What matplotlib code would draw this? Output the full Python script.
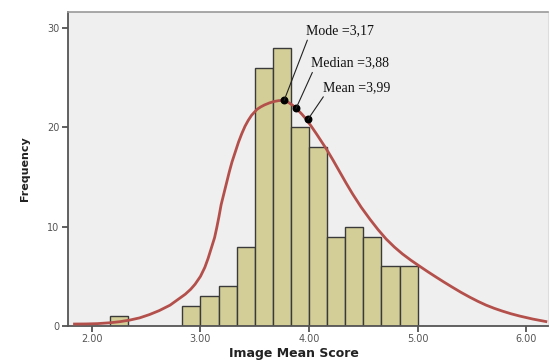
import numpy as np
import matplotlib.pyplot as plt

# histogram of image mean scores (bins of 1/6)
bin_starts = [2.1667, 2.8333, 3.0, 3.1667, 3.3333, 3.5, 3.6667, 3.8333,
              4.0, 4.1667, 4.3333, 4.5, 4.6667, 4.8333]
counts = [1, 2, 3, 4, 8, 26, 28, 20, 18, 9, 10, 9, 6, 6]
bin_width = 1 / 6

# fitted density curve
curve_x = [1.84, 1.95, 2.05, 2.17, 2.26, 2.35, 2.44, 2.53, 2.62, 2.72, 2.79,
           2.86, 2.91, 2.95, 3.00, 3.04, 3.07, 3.10, 3.13, 3.15, 3.17, 3.19,
           3.215, 3.24, 3.265, 3.29, 3.32, 3.35, 3.38, 3.41, 3.44, 3.47, 3.52,
           3.555, 3.59, 3.635, 3.68, 3.72, 3.75, 3.78, 3.81, 3.85, 3.90, 3.935,
           3.97, 4.02, 4.07, 4.115, 4.16, 4.22, 4.28, 4.34, 4.40, 4.48, 4.56,
           4.635, 4.71, 4.785, 4.86, 4.94, 5.02, 5.095, 5.17, 5.245, 5.32,
           5.40, 5.48, 5.555, 5.63, 5.705, 5.78, 5.86, 5.94, 6.06, 6.18]
curve_y = [0.20, 0.21, 0.24, 0.33, 0.44, 0.60, 0.82, 1.15, 1.55, 2.10, 2.65,
           3.20, 3.70, 4.20, 5.00, 5.90, 6.80, 7.85, 8.90, 9.90, 11.0, 12.2,
           13.3, 14.4, 15.5, 16.5, 17.5, 18.5, 19.35, 20.1, 20.7, 21.2, 21.8,
           22.05, 22.25, 22.45, 22.6, 22.68, 22.7, 22.65, 22.5, 22.2, 21.7, 21.3,
           20.85, 20.1, 19.3, 18.55, 17.8, 16.7, 15.55, 14.4, 13.3, 11.95, 10.75,
           9.7, 8.75, 7.95, 7.25, 6.6, 6.0, 5.45, 4.92, 4.40, 3.90,
           3.38, 2.90, 2.48, 2.10, 1.78, 1.50, 1.23, 1.0, 0.7, 0.45]

# summary stats marked on the curve
stat_labels = ['Mode =3,17', 'Median =3,88', 'Mean =3,99']
stat_x = [3.77, 3.88, 3.99]
stat_y = [22.7, 21.9, 20.8]
label_x = [3.975, 4.02, 4.13]
label_y = [29.7, 26.45, 24.0]

xticks = [2, 3, 4, 5, 6]
yticks = [0, 10, 20, 30]

fig = plt.figure(figsize=(5.5, 3.6), dpi=100)
ax = fig.add_axes([0.1236, 0.0944, 0.8728, 0.8723])
ax.set_facecolor('#efefef')

ax.bar(bin_starts, counts, width=bin_width, align='edge',
       color='#d3ce98', edgecolor='#3a3a3a', linewidth=1, zorder=2)
ax.plot(curve_x, curve_y, color='#b4504b', linewidth=2, zorder=3,
        solid_joinstyle='round')
ax.scatter(stat_x, stat_y, s=22, color='black', zorder=4)

for lab, sx, sy, lx, ly in zip(stat_labels, stat_x, stat_y, label_x, label_y):
    ax.annotate(lab, xy=(sx, sy), xytext=(lx, ly), ha='left', va='center',
                fontsize=10, family=['Liberation Serif', 'DejaVu Serif'],
                color='#111111', zorder=5,
                arrowprops=dict(arrowstyle='-', color='#222222', lw=0.8,
                                relpos=(0.03, 0.0), shrinkA=0, shrinkB=0))

ax.set_xlim(1.78, 6.2)
ax.set_ylim(0, 31.6)
ax.set_xticks(xticks)
ax.set_xticklabels([f'{v:.2f}' for v in xticks])
ax.set_yticks(yticks)
ax.tick_params(axis='both', direction='out', length=4, width=1.2,
               color='#444444', labelsize=7, labelcolor='#555555', pad=2)

for side in ['left', 'bottom']:
    ax.spines[side].set_color('#555555')
    ax.spines[side].set_linewidth(1.3)
ax.spines['top'].set_color('#999999')
ax.spines['top'].set_linewidth(1.2)
ax.spines['right'].set_color('#dddddd')

ax.set_xlabel('Image Mean Score', fontsize=9, fontweight='bold', color='#222222')
ax.xaxis.set_label_coords(0.47, -0.066)
ax.set_ylabel('Frequency', fontsize=8, color='#222222', fontweight='bold')
ax.yaxis.set_label_coords(-0.08, 0.5)

fig.savefig('out.png', dpi=100)
